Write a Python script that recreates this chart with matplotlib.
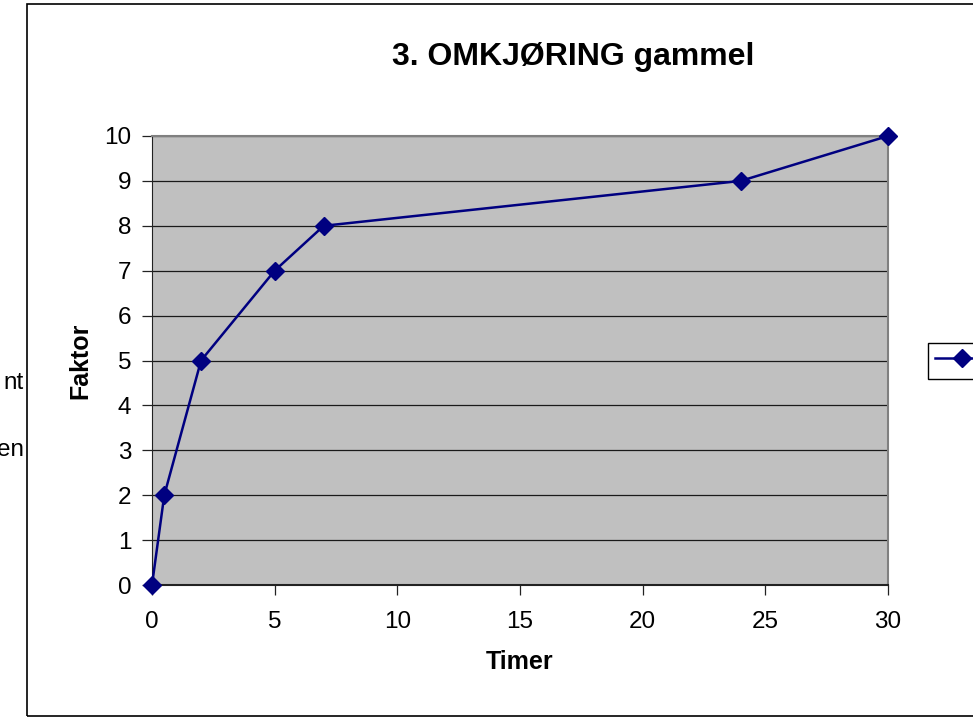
import matplotlib
matplotlib.use("Agg")
from matplotlib import pyplot as plt
from matplotlib.patches import Rectangle

plt.rcParams["font.family"] = ["Liberation Sans", "DejaVu Sans"]

# timer og faktor
timer = [0, 0.5, 2, 5, 7, 24, 30]
faktor = [0, 2, 5, 7, 8, 9, 10]
xticks = [0, 5, 10, 15, 20, 25, 30]
yticks = list(range(0, 11))

fig = plt.figure(figsize=(9.73, 7.2), dpi=100)
ax = fig.add_axes([152 / 973, 135 / 720, 736 / 973, 449 / 720])

# ramme rundt hele diagrammet
fig.patches.append(Rectangle((27 / 973, 4 / 720), 1.2, 712 / 720,
                             transform=fig.transFigure, fill=False,
                             edgecolor="black", linewidth=1.2))

ax.set_facecolor("#c0c0c0")
ax.plot(timer, faktor, color="#000080", linewidth=1.8, marker="D",
        markersize=9.5, label="Serie1", clip_on=False, zorder=5)

ax.set_xlim(0, 30)
ax.set_ylim(0, 10)
ax.set_xticks(xticks)
ax.set_yticks(yticks)
ax.yaxis.grid(True, color="#1a1a1a", linewidth=0.9)
ax.set_axisbelow(True)
ax.tick_params(axis="both", direction="out", length=7, width=0.9,
               labelsize=17.5, color="#222222")
ax.tick_params(axis="x", pad=12)
ax.tick_params(axis="y", pad=8)

for side in ["top", "right"]:
    ax.spines[side].set_color("#808080")
    ax.spines[side].set_linewidth(1.5)
ax.spines["left"].set_color("#222222")
ax.spines["bottom"].set_color("#222222")
ax.spines["bottom"].set_linewidth(1.5)

fig.text(573 / 973, 663 / 720, "3. OMKJØRING gammel", ha="center", va="center",
         fontsize=23, fontweight="bold")
fig.text(520 / 973, 58 / 720, "Timer", ha="center", va="center",
         fontsize=18, fontweight="bold")
fig.text(80 / 973, 359 / 720, "Faktor", ha="center", va="center",
         fontsize=18, fontweight="bold", rotation=90)

fig.legend(loc="center left", bbox_to_anchor=(928 / 973, 359 / 720),
           fancybox=False, edgecolor="black", framealpha=1,
           fontsize=17.5, handlelength=2.2, handletextpad=1.2,
           borderpad=0.3, borderaxespad=0)

# avkuttet tekst til venstre
fig.text(24 / 973, 337 / 720, "nt", ha="right", va="center", fontsize=17.5)
fig.text(24 / 973, 270 / 720, "en", ha="right", va="center", fontsize=17.5)

plt.savefig("out.png", dpi=100)
